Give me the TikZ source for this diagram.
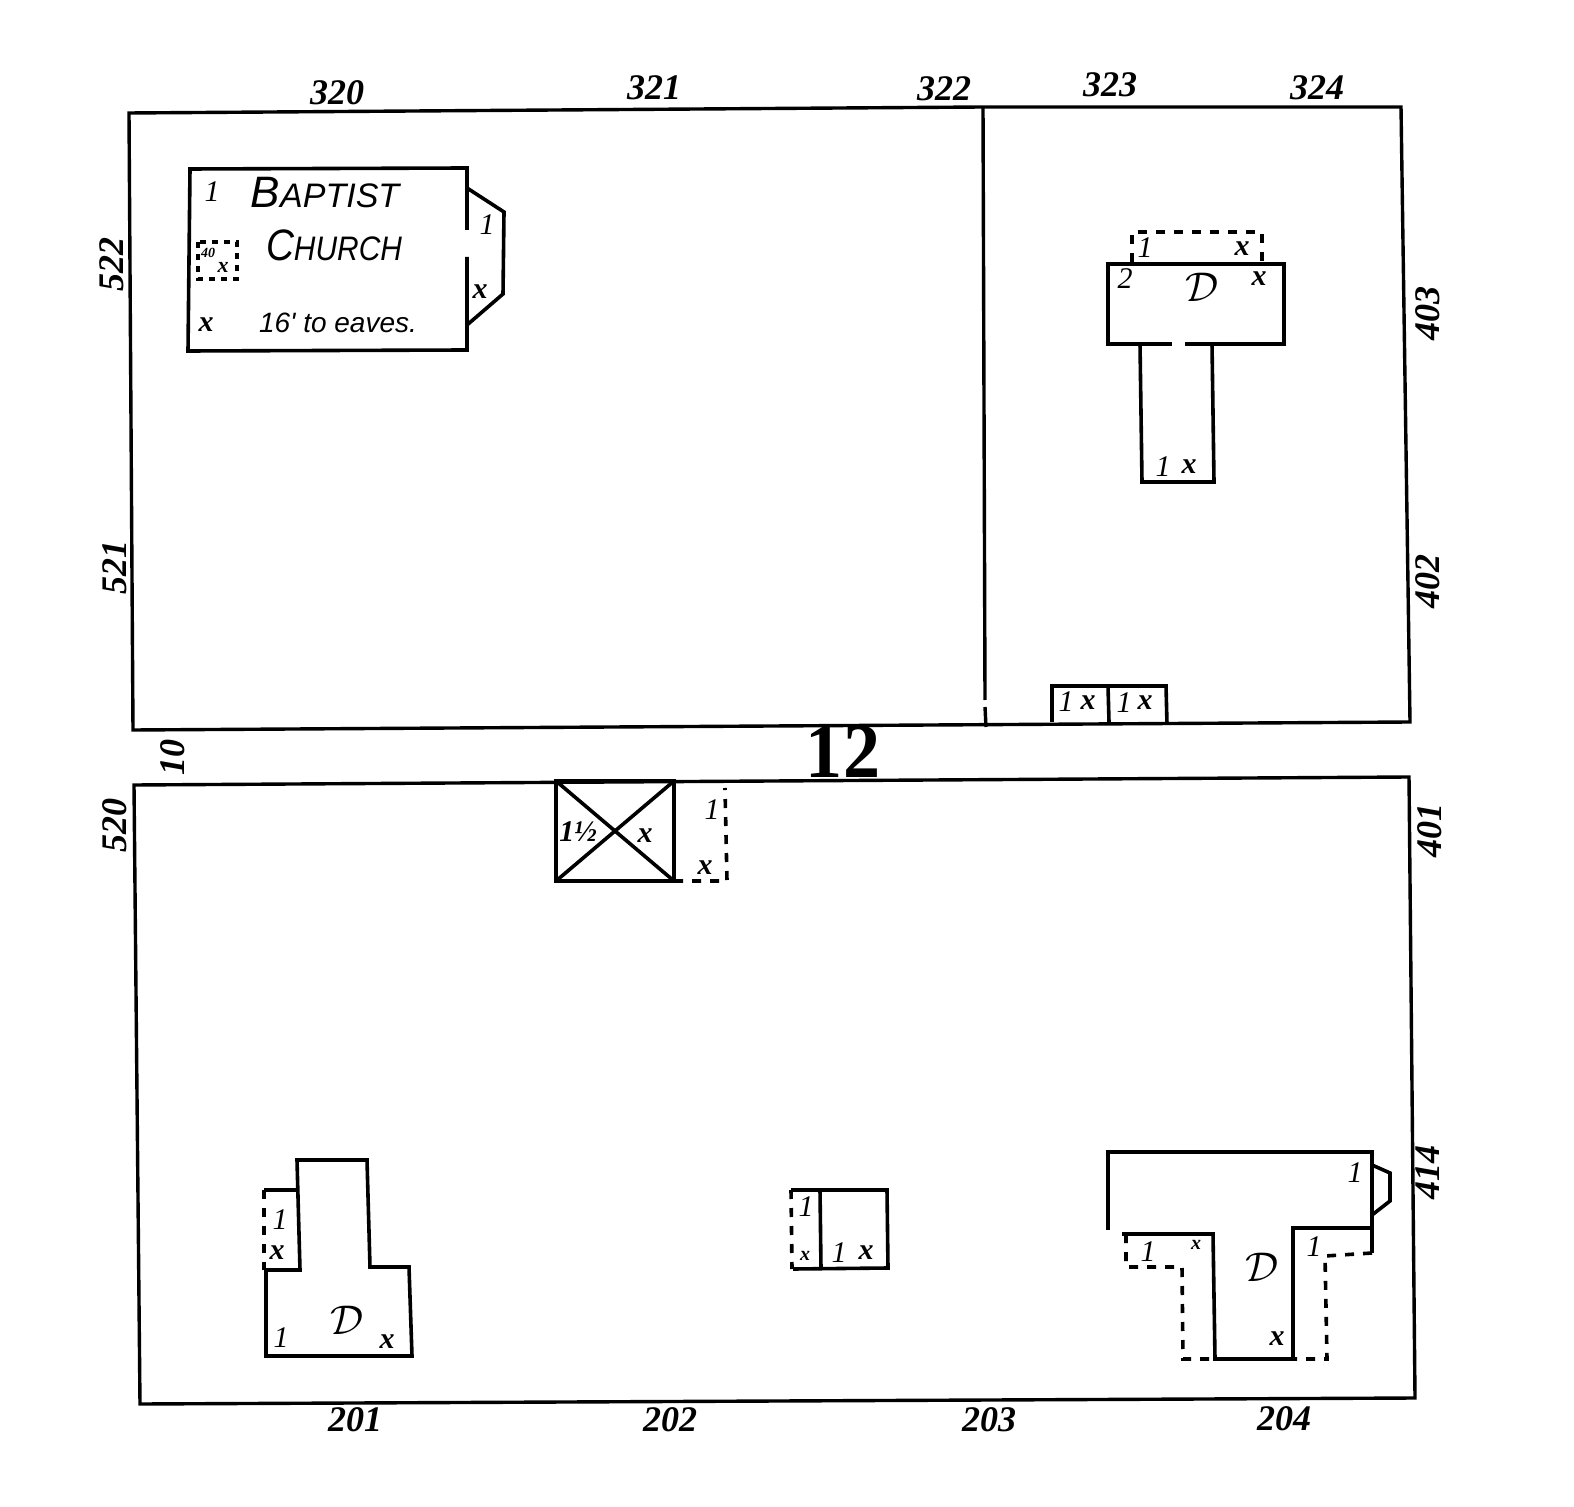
\documentclass[tikz,border=0pt]{standalone}
\usepackage{fontspec}
\setmainfont{Liberation Serif}
\newfontfamily\letterfont{Liberation Sans}
\tikzset{
  wall/.style={draw,line width=1.8pt,line join=miter},
  frameline/.style={draw,line width=1.7pt},
  dashwall/.style={draw,line width=1.8pt,dash pattern=on 4.5pt off 4.5pt},
  lot/.style={inner sep=0pt,font=\fontsize{18}{18}\selectfont\bfseries\itshape},
  tag/.style={inner sep=0pt,font=\fontsize{15}{15}\selectfont\itshape},
  cross/.style={inner sep=0pt,font=\fontsize{15}{15}\selectfont\bfseries\itshape},
  dwell/.style={inner sep=0pt,font=\fontsize{20}{20}\selectfont}
}
\newcommand{\bigsmall}[2]{{\fontsize{22}{22}\selectfont #1}{\fontsize{17}{17}\selectfont #2}}

\begin{document}
\begin{tikzpicture}[x=.5pt,y=-.5pt]
\useasboundingbox (0,0) rectangle (1574,1507);

% blocks
\draw[frameline] (129,113) -- (983,107) -- (1401,107) -- (1410,722) -- (133,730) -- cycle;
\draw[frameline] (983,107) -- (985,700);
\draw[frameline] (985,707) -- (986,727);
\draw[frameline] (134,785) -- (1409,777) -- (1415,1398) -- (140,1404) -- cycle;

\node[inner sep=0pt,font=\fontsize{39}{39}\selectfont\bfseries,xscale=.95] (blockno) at (843,752) {12};

% lot numbers
\node[lot] (l320) at (337,93) {320};
\node[lot] (l321) at (654,88) {321};
\node[lot] (l322) at (944,89) {322};
\node[lot] (l323) at (1110,85) {323};
\node[lot] (l324) at (1317,88) {324};
\node[lot,rotate=90] (l522) at (112,265) {522};
\node[lot,rotate=90] (l521) at (115,568) {521};
\node[lot,rotate=90] (l10) at (173,758) {10};
\node[lot,rotate=90] (l520) at (115,825) {520};
\node[lot,rotate=90] (l403) at (1428,314) {403};
\node[lot,rotate=90] (l402) at (1428,582) {402};
\node[lot,rotate=90] (l401) at (1430,830) {401};
\node[lot,rotate=90] (l414) at (1428,1172) {414};
\node[lot] (l201) at (355,1420) {201};
\node[lot] (l202) at (670,1420) {202};
\node[lot] (l203) at (989,1420) {203};
\node[lot] (l204) at (1284,1419) {204};

% church
\draw[wall] (467,230) -- (467,168) -- (190,169) -- (188,351) -- (467,350) -- (467,257);
\draw[wall] (467,188) -- (504,212) -- (503,294) -- (467,325);
\draw[dashwall,line width=1.6pt,dash pattern=on 3pt off 3pt] (198,242) rectangle (237,279);
\node[inner sep=0pt,font=\letterfont\itshape] (baptist) at (325,193) {\bigsmall{B}{APTIST}};
\node[inner sep=0pt,font=\letterfont\itshape,xscale=.88] (church) at (334,245) {\bigsmall{C}{HURCH}};
\node[inner sep=0pt,font=\fontsize{14}{14}\selectfont\letterfont\itshape] (eaves) at (338,323) {16' to eaves.};
\node[tag] (ch1) at (212,192) {1};
\node[inner sep=0pt,font=\fontsize{7}{7}\selectfont\bfseries\itshape] (ch40) at (208,253) {40};
\node[cross,font=\fontsize{11}{11}\selectfont\bfseries\itshape] (chx1) at (223,267) {x};
\node[cross] (chx2) at (206,325) {x};
\node[tag] (ch2) at (487,225) {1};
\node[cross] (chx3) at (480,292) {x};

% dwelling upper right
\draw[wall] (1108,264) rectangle (1284,344);
\draw[white,line width=3pt] (1172,344) -- (1185,344);
\draw[wall] (1140,344) -- (1142,482) -- (1214,482) -- (1212,344);
\draw[dashwall] (1132,262) -- (1132,232) -- (1262,232) -- (1262,262);
\node[tag] (ur1) at (1145,248) {1};
\node[cross] (urx1) at (1242,249) {x};
\node[tag] (ur2) at (1125,279) {2};
\node[dwell] (urd) at (1202,287) {$\mathcal{D}$};
\node[cross] (urx2) at (1259,279) {x};
\node[tag] (ur3) at (1163,467) {1};
\node[cross] (urx3) at (1189,467) {x};

% sheds on the street
\draw[wall] (1052,722) -- (1052,686) -- (1166,686) -- (1167,724);
\draw[wall] (1108,686) -- (1109,722);
\node[tag] (sh1) at (1066,702) {1};
\node[cross] (shx1) at (1088,703) {x};
\node[tag] (sh2) at (1124,703) {1};
\node[cross] (shx2) at (1145,703) {x};

% crossed building
\draw[wall] (556,781) rectangle (674,881);
\draw[wall] (556,781) -- (674,881);
\draw[wall] (674,781) -- (556,881);
\draw[dashwall] (674,881) -- (727,881) -- (725,788);
\node[inner sep=0pt,font=\fontsize{15}{15}\selectfont\bfseries\itshape] (xb1) at (578,832) {1½};
\node[cross] (xbx1) at (645,836) {x};
\node[tag] (xb2) at (712,810) {1};
\node[cross] (xbx2) at (705,868) {x};

% dwelling lower left
\draw[wall] (266,1270) -- (300,1270) -- (297,1160) -- (367,1160) -- (370,1267) -- (409,1267) -- (412,1356) -- (266,1356) -- cycle;
\draw[wall] (297,1190) -- (264,1190);
\draw[dashwall] (264,1190) -- (264,1270);
\node[tag] (ll1) at (280,1220) {1};
\node[cross] (llx1) at (277,1253) {x};
\node[tag] (ll2) at (281,1338) {1};
\node[dwell] (lld) at (347,1320) {$\mathcal{D}$};
\node[cross] (llx2) at (387,1342) {x};

% small building
\draw[wall] (791,1190) -- (887,1190) -- (888,1268) -- (793,1269);
\draw[wall] (820,1190) -- (821,1269);
\draw[dashwall] (791,1190) -- (792,1269);
\node[tag] (sm1) at (806,1207) {1};
\node[cross,font=\fontsize{10}{10}\selectfont\bfseries\itshape] (smx1) at (805,1256) {x};
\node[tag] (sm2) at (839,1253) {1};
\node[cross] (smx2) at (866,1253) {x};

% dwelling lower right
\draw[wall] (1108,1230) -- (1108,1152) -- (1372,1152) -- (1372,1253);
\draw[wall] (1122,1234) -- (1213,1234) -- (1215,1359) -- (1293,1359) -- (1293,1228) -- (1372,1228);
\draw[wall] (1372,1165) -- (1390,1173) -- (1390,1201) -- (1372,1215);
\draw[dashwall] (1126,1234) -- (1126,1267) -- (1182,1267) -- (1183,1359) -- (1213,1359);
\draw[dashwall] (1372,1253) -- (1325,1256) -- (1327,1359) -- (1293,1359);
\node[tag] (lr1) at (1355,1173) {1};
\node[tag] (lr2) at (1148,1252) {1};
\node[cross,font=\fontsize{10}{10}\selectfont\bfseries\itshape] (lrx1) at (1196,1245) {x};
\node[tag] (lr3) at (1314,1247) {1};
\node[dwell] (lrd) at (1262,1267) {$\mathcal{D}$};
\node[cross] (lrx2) at (1277,1339) {x};
\end{tikzpicture}
\end{document}
